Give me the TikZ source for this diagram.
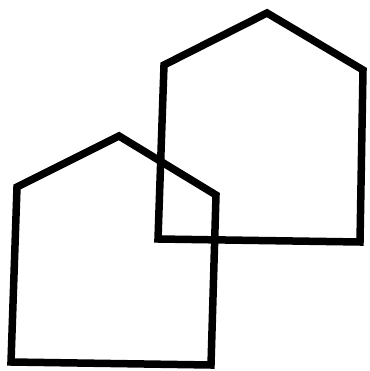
\documentclass[tikz,border=0pt]{standalone}
\usepackage{tikz}

\begin{document}
\begin{tikzpicture}[
  x=1pt, y=-1pt,
  house/.style={draw=black, line width=7.5pt, line join=miter, fill=none}
]
\useasboundingbox (0,0) rectangle (369,371);

% back house
\draw[house] (267,13) -- (363,70) -- (360,242) -- (158,239) -- (164,65) -- cycle;

% front house
\draw[house] (119,136) -- (216,195) -- (211,365) -- (11,362) -- (17,187) -- cycle;

\end{tikzpicture}
\end{document}
